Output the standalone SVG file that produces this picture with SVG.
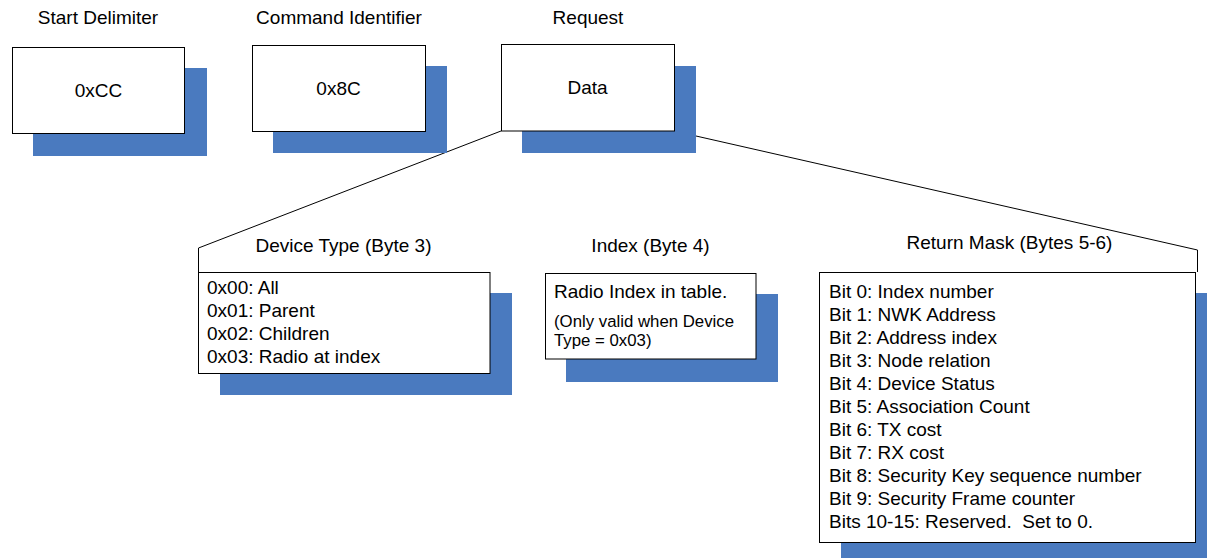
<svg xmlns="http://www.w3.org/2000/svg" width="1207" height="558" viewBox="0 0 1207 558">
<style>
  .shadow { fill: #4a7abf; }
  .box { fill: #ffffff; stroke: #000000; stroke-width: 1; }
  .t { font-family: "Liberation Sans", Arial, sans-serif; font-size: 19px; fill: #000000; }
  .s { font-family: "Liberation Sans", Arial, sans-serif; font-size: 16.8px; fill: #000000; }
  .c { text-anchor: middle; }
  .conn { fill: none; stroke: #000000; stroke-width: 1; }
</style>
<rect width="1207" height="558" fill="#ffffff"/>
<g id="connectors">
  <polyline class="conn" points="501,131 198.5,248 198.5,272"/>
  <polyline class="conn" points="674,131 1197.5,250 1197.5,272"/>
</g>
<g id="start-delimiter">
  <text class="t c" x="98" y="24">Start Delimiter</text>
  <rect class="shadow" x="33" y="68" width="174" height="88"/>
  <rect class="box" x="12.5" y="47.5" width="172" height="86"/>
  <text class="t c" x="98.5" y="96.5">0xCC</text>
</g>
<g id="command-identifier">
  <text class="t c" x="339" y="24">Command Identifier</text>
  <rect class="shadow" x="273" y="66" width="174" height="87"/>
  <rect class="box" x="252.5" y="45.5" width="173" height="86"/>
  <text class="t c" x="338.5" y="95">0x8C</text>
</g>
<g id="request">
  <text class="t c" x="588" y="24">Request</text>
  <rect class="shadow" x="522" y="66" width="174" height="87"/>
  <rect class="box" x="501.5" y="44.5" width="173" height="86.5"/>
  <text class="t c" x="587.5" y="94">Data</text>
</g>
<g id="device-type">
  <text class="t c" x="343.5" y="252">Device Type (Byte 3)</text>
  <rect class="shadow" x="220" y="293" width="292" height="102"/>
  <rect class="box" x="198.5" y="272.5" width="291.5" height="101"/>
  <text class="t" x="207" y="293.5">0x00: All</text>
  <text class="t" x="207" y="316.5">0x01: Parent</text>
  <text class="t" x="207" y="339.5">0x02: Children</text>
  <text class="t" x="207" y="362.5">0x03: Radio at index</text>
</g>
<g id="index">
  <text class="t c" x="650.5" y="252">Index (Byte 4)</text>
  <rect class="shadow" x="566" y="294" width="212" height="88"/>
  <rect class="box" x="545.5" y="273.5" width="210.5" height="85.5"/>
  <text class="t" x="554" y="297.5">Radio Index in table.</text>
  <text class="s" x="554" y="327">(Only valid when Device</text>
  <text class="s" x="554" y="345.5">Type = 0x03)</text>
</g>
<g id="return-mask">
  <text class="t c" x="1009.5" y="249">Return Mask (Bytes 5-6)</text>
  <rect class="shadow" x="841" y="293" width="366" height="265"/>
  <rect class="box" x="819.5" y="272.5" width="376" height="270"/>
  <text class="t" x="829" y="298">Bit 0: Index number</text>
  <text class="t" x="829" y="321">Bit 1: NWK Address</text>
  <text class="t" x="829" y="344">Bit 2: Address index</text>
  <text class="t" x="829" y="367">Bit 3: Node relation</text>
  <text class="t" x="829" y="390">Bit 4: Device Status</text>
  <text class="t" x="829" y="413">Bit 5: Association Count</text>
  <text class="t" x="829" y="436">Bit 6: TX cost</text>
  <text class="t" x="829" y="459">Bit 7: RX cost</text>
  <text class="t" x="829" y="482">Bit 8: Security Key sequence number</text>
  <text class="t" x="829" y="505">Bit 9: Security Frame counter</text>
  <text class="t" x="829" y="528" xml:space="preserve">Bits 10-15: Reserved.  Set to 0.</text>
</g>
</svg>
